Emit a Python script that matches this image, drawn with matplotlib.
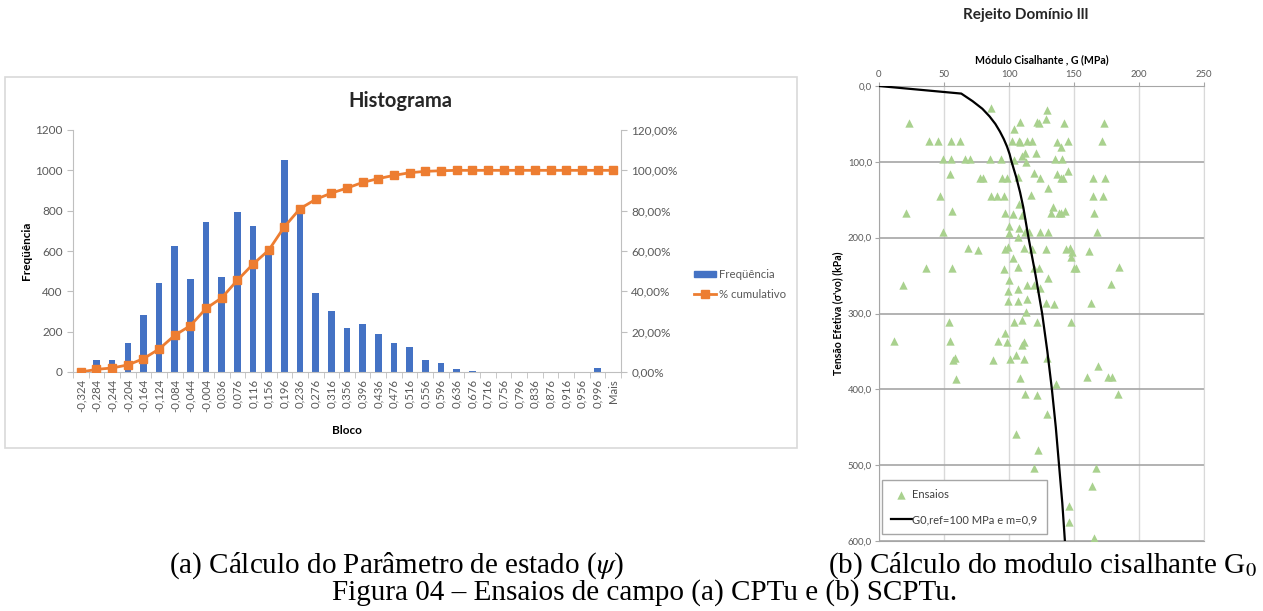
import matplotlib
matplotlib.use("Agg")
import matplotlib.pyplot as plt
from matplotlib.patches import Rectangle, Patch
from matplotlib.lines import Line2D
from matplotlib.ticker import FuncFormatter, FixedLocator

plt.rcParams['font.family'] = ['Lato', 'DejaVu Sans']
plt.rcParams['mathtext.fontset'] = 'stix'

# --- (a) histogram data ---
bins = ["-0,324", "-0,284", "-0,244", "-0,204", "-0,164", "-0,124", "-0,084",
        "-0,044", "-0,004", "0,036", "0,076", "0,116", "0,156", "0,196", "0,236",
        "0,276", "0,316", "0,356", "0,396", "0,436", "0,476", "0,516", "0,556",
        "0,596", "0,636", "0,676", "0,716", "0,756", "0,796", "0,836", "0,876",
        "0,916", "0,956", "0,996", "Mais"]
freq = [0, 61, 61, 144, 285, 442, 627, 459, 743, 473, 795, 723, 600, 1051, 810,
        394, 303, 218, 237, 187, 144, 124, 58, 45, 13, 3, 0, 0, 0, 2, 0, 2, 2, 22, 0]
cum_pct = [0, 1.3, 2.0, 3.5, 6.6, 11.4, 18.2, 23.0, 31.5, 36.8, 45.5, 53.5, 60.4,
           72.0, 81.0, 85.6, 88.7, 91.2, 94.0, 95.9, 97.5, 98.8, 99.5, 99.8, 100,
           100, 100, 100, 100, 100, 100, 100, 100, 100, 100]

# --- (b) shear modulus data ---
curve_sigma = [0, 10, 20, 30, 40, 50, 60, 70, 80, 90, 100, 120, 140, 160, 180, 200,
               250, 300, 350, 400, 450, 500, 550, 600]
curve_G = [0, 63.3, 72, 79.5, 85, 89.5, 93, 96, 98.5, 100.5, 102, 105.5, 108.5, 111,
           113, 115, 120.5, 125.5, 129.5, 133, 136, 138.5, 141, 143]

ens_G = [86.5, 129, 128.3, 23, 108.5, 121.8, 123, 142.5, 173, 104,
         38.2, 45, 55.5, 62.2, 102.6, 107.5, 108.2, 113.7, 117.8, 137.3, 145.6, 171.6,
         140.3, 112, 120.7, 110.3,
         49.5, 55, 66.5, 70, 85.2, 93.6, 104, 113, 135, 140.8,
         54.6, 77.7, 79.7, 94.6, 98.2, 107.2, 119, 123.8, 136.7, 139.7, 141.8, 145.1, 164.9, 174.1,
         130.3, 46.7, 85.9, 90.5, 96.4, 116.7, 164.9, 172.6, 108, 133.6,
         21, 56.4, 96.9, 103.3, 109.7, 132.3, 138.2, 140, 143.1, 165.6,
         99.7, 107.7, 49, 100.3, 112.6, 115.6, 123.8, 130.3, 168, 107.2,
         68.2, 75.9, 97, 99.5, 111.5, 117.9, 128.2, 143.8, 146.9, 148.7, 161.5,
         103.3, 148, 36.2, 56.4, 96.4, 107.2, 119.2, 122.8, 150.3, 151.3, 184.6,
         18.5, 100.3, 130.3, 178.7, 99, 107.2, 113.6, 119.2, 123.8,
         99, 107.2, 113.6, 128.2, 134.4, 163.1, 113.1,
         54.1, 104.1, 110.3, 121.8, 147.4,
         97.2, 11.5, 54.6, 91.8, 98.2, 111.5, 110.3,
         56.7, 58.7, 87.9, 101, 105.1, 111.8, 129.5, 168.5,
         160.3, 175.9, 179.5, 59.5, 108.5, 135.9, 112.6, 121.8, 183.6,
         129.2, 105.6, 122.6, 119.2, 167.2, 164.1, 146.2, 146.2, 165.6]
ens_sigma = [28.6, 31.7, 43, 48.5, 47, 47.6, 48.5, 48.5, 48.5, 57.2,
             72, 73, 72, 73, 73, 72.5, 73.5, 72.5, 73, 73.5, 73, 73,
             81, 88, 87.7, 92,
             96.5, 96, 96.5, 96.5, 96.5, 96.5, 97.8, 100.5, 96, 96.5,
             116, 121, 121, 121, 121, 119.6, 115.2, 121, 116, 121, 121, 112, 121, 121,
             135, 144.6, 144.6, 144.6, 144.6, 143.3, 144.6, 144.6, 156, 159,
             168, 165, 168, 168.5, 170, 168, 168, 168, 164.4, 168,
             184.6, 186.8, 192.6, 193.4, 192.1, 192.1, 192.1, 192.1, 192.1, 198.7,
             214, 216.6, 215.4, 212, 213, 215.4, 215.4, 215.4, 213, 218.5, 217,
             227.3, 225, 240.5, 240.5, 241.8, 239.1, 240.5, 240.5, 240.5, 240.5, 239.1,
             262.4, 255.9, 253.7, 261.1, 270.4, 267.7, 263, 262.3, 266.8,
             283.5, 283.5, 281.3, 285.7, 288, 286.6, 297.6,
             311.7, 311.7, 308.6, 311.7, 311.7,
             326, 336, 336, 336, 337, 337, 341.6,
             361.3, 359, 361.3, 360.5, 354.8, 360.5, 359.2, 368.8,
             384.2, 384.2, 383.5, 386.4, 384.6, 393.4, 406.6, 408, 406.6,
             432.6, 458.9, 479.6, 504.2, 503.3, 528, 554, 575.4, 596.5]

W, H = 1263, 611
fig = plt.figure(figsize=(W / 100, H / 100), dpi=100)

def fx(px):
    return px / W

def fy(py):
    return 1 - py / H

axis_gray = '#bfbfbf'
text_gray = '#595959'

# ---------------- (a) Histograma ----------------
fig.patches.append(Rectangle((fx(5), fy(448)), fx(792), 371 / H, transform=fig.transFigure,
                             fill=False, ec='#d9d9d9', lw=1.2))

ax = fig.add_axes([fx(73), fy(372), fx(548), 242 / H])
pos = list(range(len(bins)))
ax.bar(pos, freq, width=0.42, color='#4472C4', zorder=2)
ax.set_xlim(-0.5, len(bins) - 0.5)
ax.set_ylim(0, 1200)
ax.set_yticks(range(0, 1201, 200))
ax.set_xticks(pos)
ax.set_xticklabels(bins, rotation=90, fontsize=8.2, color=text_gray)
ax.xaxis.set_minor_locator(FixedLocator([p - 0.5 for p in pos] + [len(bins) - 0.5]))
ax.tick_params(axis='x', which='major', length=0, pad=5)
ax.tick_params(axis='x', which='minor', length=4, color=axis_gray)
ax.tick_params(axis='y', length=4, color=axis_gray, labelsize=8.5, labelcolor=text_gray)
for s in ['top', 'right']:
    ax.spines[s].set_visible(False)
for s in ['left', 'bottom']:
    ax.spines[s].set_color(axis_gray)
ax.set_ylabel('Freqüência', fontsize=8.5, fontweight='bold')
ax.yaxis.set_label_coords(-0.074, 0.5)
ax.set_xlabel('Bloco', fontsize=8.5, fontweight='bold')
ax.xaxis.set_label_coords(0.5, -0.219)

ax2 = ax.twinx()
ax2.plot(pos, cum_pct, color='#ED7D31', marker='s', ms=5.5, lw=2, zorder=3)
ax2.set_ylim(0, 120)
ax2.set_yticks(range(0, 121, 20))
ax2.yaxis.set_major_formatter(FuncFormatter(lambda v, p: f"{v:.2f}%".replace('.', ',')))
ax2.tick_params(axis='y', length=4, color=axis_gray, labelsize=8.5, labelcolor=text_gray)
for s in ['top', 'left', 'bottom']:
    ax2.spines[s].set_visible(False)
ax2.spines['right'].set_color(axis_gray)

fig.text(fx(400), fy(101), 'Histograma', fontsize=14.5, fontweight='bold',
         ha='center', va='center', color='#262626')

leg_handles = [Patch(color='#4472C4'),
               Line2D([], [], color='#ED7D31', marker='s', ms=5.5, lw=2)]
fig.legend(leg_handles, ['Freqüência', '% cumulativo'], loc='upper left',
           bbox_to_anchor=(fx(684), fy(259)), frameon=False, fontsize=8.2,
           handlelength=1.9, handleheight=0.5, handletextpad=0.3, labelspacing=0.75,
           labelcolor=text_gray)

# ---------------- (b) Rejeito Domínio lll ----------------
bx = fig.add_axes([fx(879), fy(541), fx(325), 455 / H])
bx.scatter(ens_G, ens_sigma, marker='^', s=36, color='#A9D18E', lw=0, zorder=3,
           label='Ensaios')
bx.plot(curve_G, curve_sigma, color='black', lw=1.6, zorder=4,
        label='G0,ref=100 MPa e m=0,9')
bx.set_xlim(0, 250)
bx.set_ylim(600, 0)
bx.set_xticks(range(0, 251, 50))
bx.set_yticks(range(0, 601, 100))
bx.yaxis.set_major_formatter(FuncFormatter(lambda v, p: f"{v:.1f}".replace('.', ',')))
bx.xaxis.tick_top()
bx.xaxis.set_label_position('top')
bx.tick_params(axis='x', length=3, color='#a6a6a6', labelsize=6.8, labelcolor=text_gray, pad=2)
bx.tick_params(axis='y', length=3, color='#a6a6a6', labelsize=6.8, labelcolor=text_gray, pad=2)
bx.grid(axis='x', color='#d9d9d9', lw=1, zorder=0)
bx.grid(axis='y', color='#a6a6a6', lw=1.2, zorder=0)
bx.set_axisbelow(True)
bx.spines['left'].set_color('#a6a6a6')
bx.spines['top'].set_color('#a6a6a6')
bx.spines['bottom'].set_color('#a6a6a6')
bx.spines['right'].set_color('#d9d9d9')
bx.set_xlabel('Módulo Cisalhante , G (MPa)', fontsize=7.6, fontweight='bold', labelpad=5)
bx.set_ylabel("Tensão Efetiva (σ'vo) (kPa)", fontsize=7.6, fontweight='bold')
bx.yaxis.set_label_coords(-0.11, 0.5)

lg = bx.legend(loc='lower left', bbox_to_anchor=(0.009, 0.015), fontsize=8,
               frameon=True, fancybox=False, edgecolor='#a6a6a6', framealpha=1,
               labelspacing=1.3, handlelength=1.9, handletextpad=0.05, borderpad=0.8,
               borderaxespad=0, labelcolor='#404040')
lg.get_frame().set_linewidth(1)

fig.text(fx(1026), fy(15), 'Rejeito Domínio lll', fontsize=11, fontweight='bold',
         ha='center', va='center', color='#262626')

# ---------------- captions ----------------
serif = ['Liberation Serif', 'DejaVu Serif']
fig.text(fx(396), fy(566), r'(a) Cálculo do Parâmetro de estado ($\psi$)', family=serif,
         fontsize=21, ha='center', va='center')
fig.text(fx(1257), fy(566), r'(b) Cálculo do modulo cisalhante G$_0$', family=serif,
         fontsize=21, ha='right', va='center')
fig.text(fx(645), fy(593), 'Figura 04 – Ensaios de campo (a) CPTu e (b) SCPTu.',
         family=serif, fontsize=21, ha='center', va='center')

fig.savefig('out.png', dpi=100)
